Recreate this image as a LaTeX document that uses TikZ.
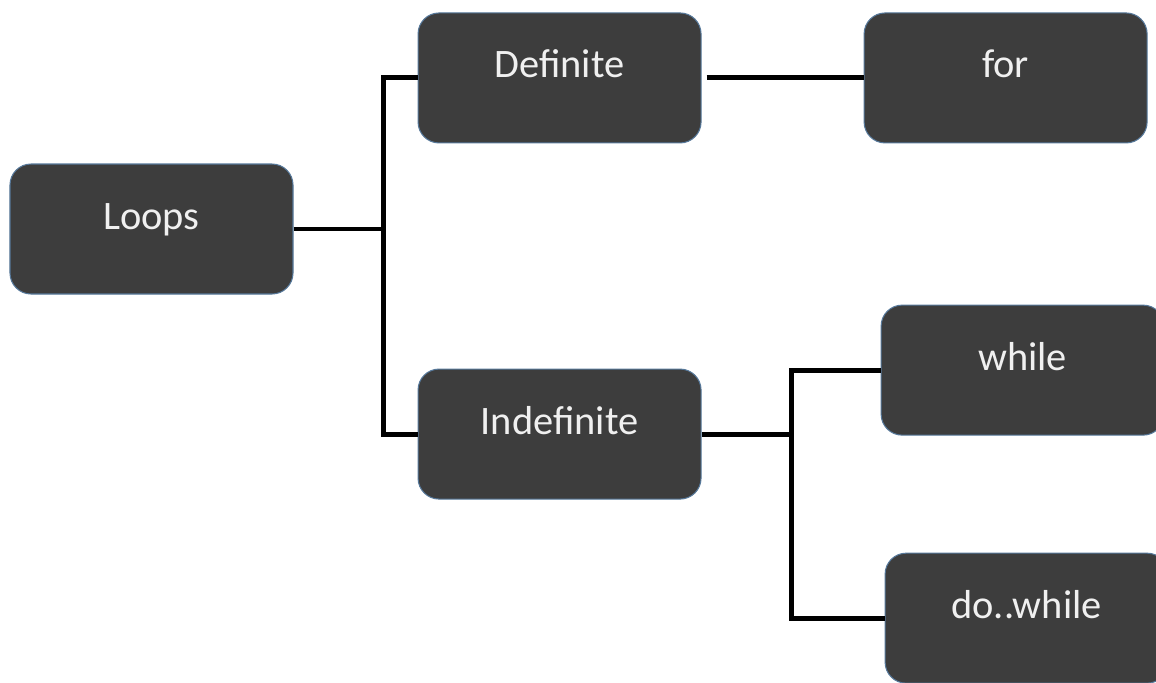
\documentclass[tikz,border=0pt]{standalone}
\usepackage{fontspec}
\setmainfont{Carlito}
\usepackage{tikz}
\usetikzlibrary{positioning}
\definecolor{boxfill}{HTML}{3D3D3D}
\definecolor{boxedge}{HTML}{56789A}
\definecolor{boxtext}{HTML}{F0F0F0}
\tikzstyle{loopbox} = [
    draw=boxedge,
    line width=0.6pt,
    fill=boxfill,
    rounded corners=0.42cm,
    minimum width=5.66cm,
    minimum height=2.6cm,
    text=boxtext,
    font=\fontsize{23}{27}\selectfont,
    text height=15pt,
    text depth=15pt
]
\tikzstyle{branch} = [
    line width=2.8pt,
    black
]

\begin{document}
\begin{tikzpicture}

\useasboundingbox (0,0) rectangle (23.12,-13.64);

\node [loopbox] (loops) at (3.03,-4.58) {Loops};

\node [loopbox,
    above right=0.4cm and 2.48cm of loops
]  (definite) {Definite};

\node [loopbox,
    below right=1.48cm and 2.48cm of loops
]  (indefinite) {Indefinite};

\node [loopbox,
    right=3.24cm of definite
]  (forloop) {for};

\node [loopbox,
    below right=-3.9cm and 3.58cm of indefinite
]  (whileloop) {while};

\node [loopbox,
    below=2.34cm of whileloop,
    xshift=0.08cm
]  (dowhile) {do..while};

\coordinate[right=1.8cm of loops] (split1);
\draw[branch] (loops.east) -- (split1) |- (definite.west);
\draw[branch] (split1) |- (indefinite.west);

\draw[branch, shorten <=0.1cm] (definite.east) -- (definite.east -| forloop.west);

\coordinate[right=1.8cm of indefinite] (split2);
\draw[branch] (indefinite.east) -- (split2) |- (whileloop.west);
\draw[branch] (split2) |- (dowhile.west);

\end{tikzpicture}
\end{document}
